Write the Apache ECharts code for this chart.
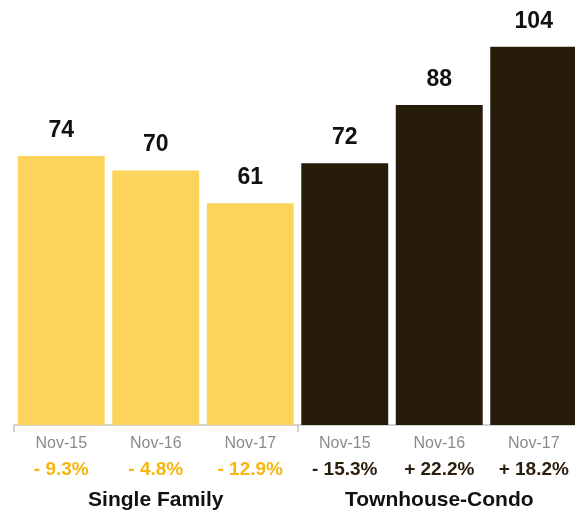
<!DOCTYPE html>
<html>
<head>
<meta charset="utf-8">
<script src="https://cdn.jsdelivr.net/npm/echarts@6/dist/echarts.min.js"></script>
<style>
  html, body { margin: 0; padding: 0; background: #fff; }
  #chart { width: 575px; height: 513px; }
</style>
</head>
<body>
<div id="chart"></div>
<script>
// Days on market by property type, November of each year
const periods = ['Nov-15', 'Nov-16', 'Nov-17', 'Nov-15', 'Nov-16', 'Nov-17'];
const values = [74, 70, 61, 72, 88, 104];
const changes = ['- 9.3%', '- 4.8%', '- 12.9%', '- 15.3%', '+ 22.2%', '+ 18.2%'];
const groups = ['Single Family', 'Townhouse-Condo'];
const groupSize = 3;

const FONT = '"Liberation Sans", Arial, Helvetica, sans-serif';
const YELLOW = '#FDD45B';
const DARK = '#261C09';
const PCT_YELLOW = '#F6B60C';
const PCT_DARK = '#2A1F0B';

const chart = echarts.init(document.getElementById('chart'), null, { renderer: 'canvas' });

chart.setOption({
  animation: false,
  backgroundColor: '#ffffff',
  textStyle: { fontFamily: FONT },
  grid: { left: 14, top: 25, width: 567, height: 400, outerBoundsMode: 'none', containLabel: false },
  xAxis: [
    {
      type: 'category',
      data: periods,
      position: 'bottom',
      axisLine: { show: false },
      axisTick: { show: false },
      axisLabel: {
        interval: 0,
        margin: 8,
        formatter: function (value, index) {
          const key = index < groupSize ? 'py' : 'pd';
          return '{d|' + value + '}\n{' + key + '|' + changes[index] + '}';
        },
        rich: {
          d: { fontFamily: FONT, fontSize: 16, color: '#8a8a8a', lineHeight: 22 },
          py: { fontFamily: FONT, fontSize: 19, fontWeight: 'bold', color: PCT_YELLOW, lineHeight: 30 },
          pd: { fontFamily: FONT, fontSize: 19, fontWeight: 'bold', color: PCT_DARK, lineHeight: 30 }
        }
      }
    },
    {
      type: 'category',
      data: groups,
      position: 'bottom',
      axisLine: { show: true, lineStyle: { color: '#c4c4c4', width: 1.5 } },
      axisTick: { show: true, length: 7, lineStyle: { color: '#c4c4c4', width: 1.5 } },
      axisLabel: {
        margin: 63,
        fontFamily: FONT,
        fontSize: 21,
        fontWeight: 'bold',
        color: '#111111',
        lineHeight: 24
      }
    }
  ],
  yAxis: {
    type: 'value',
    min: 0,
    max: 110,
    show: false,
    splitLine: { show: false }
  },
  series: [
    {
      type: 'bar',
      xAxisIndex: 0,
      data: values,
      barCategoryGap: '8%',
      itemStyle: {
        color: function (p) { return p.dataIndex < groupSize ? YELLOW : DARK; }
      },
      label: {
        show: true,
        position: 'top',
        distance: 14,
        fontFamily: FONT,
        fontSize: 23,
        fontWeight: 'bold',
        color: '#111111'
      }
    }
  ]
});
</script>
</body>
</html>
